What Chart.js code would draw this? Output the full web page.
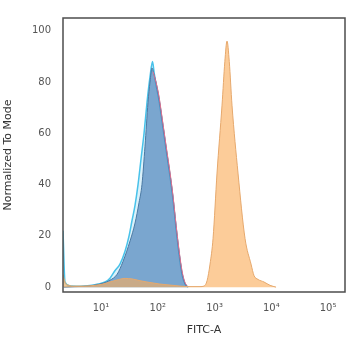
<!DOCTYPE html>
<html>
<head>
<meta charset="utf-8">
<script src="https://cdn.jsdelivr.net/npm/chart.js@4.4.1/dist/chart.umd.min.js"></script>
<style>
html,body{margin:0;padding:0;background:#fff;}
#c{display:block;}
</style>
</head>
<body>
<canvas id="c" width="350" height="339"></canvas>
<script>
// ---- data ----
const xTickValues = [10, 100, 1000, 10000, 100000];
const xTickLabels = ['10\u00B9', '10\u00B2', '10\u00B3', '10\u2074', '10\u2075'];
const yTickValues = [0, 20, 40, 60, 80, 100];

const blueX = [2.2, 3.48, 5.9, 7.84, 10.8, 14.4, 19.2, 24.4, 32.5, 39.8, 46.8, 52.7, 59.6, 67.3, 73, 79.2, 85.9, 93.1, 105, 124, 146, 165, 186, 210, 237, 267, 302, 341];
const blueY = [0, 0.2, 0.4, 0.8, 1.5, 2.7, 5, 10, 18, 25, 33, 40, 55, 72, 80, 85.5, 83, 80, 74, 63, 52, 44, 35, 24, 14, 6, 1.5, 0];

const cyanX = [2.14, 2.32, 2.84, 4.3, 6.4, 8.85, 11.8, 14.4, 17.7, 21.6, 26.5, 31.2, 35.2, 39.8, 44.9, 50.7, 57.3, 64.6, 73, 80.8, 85.9, 93.1, 105, 124, 146, 165, 186, 210, 237, 267, 302, 341];
const cyanY = [22, 2, 0.5, 0.3, 0.6, 1.2, 2, 3.5, 6.5, 9, 14, 20, 26, 32, 40, 50, 60, 72, 82, 88, 84, 79, 73, 62, 51, 43, 34, 23, 13, 5, 1.2, 0];

const redX = [82.6, 93.1, 105, 124, 146, 165, 186, 210, 237, 267, 302, 341];
const redY = [84, 80, 74.5, 63.5, 52.5, 44.5, 35.5, 24.5, 14.5, 6.5, 1.8, 0.2];

const orangeX = [2.14, 2.32, 2.62, 3.48, 5.2, 7.84, 10.8, 14.4, 19.2, 26.5, 35.2, 48.6, 73, 109, 165, 247, 370, 555, 653, 739, 834, 942, 1107, 1356, 1520, 1660, 1820, 2032, 2593, 3446, 4395, 4966, 5845, 7450, 9510, 12140];
const orangeY = [5, 2, 0.8, 0.4, 0.4, 0.7, 1.2, 2, 2.8, 3.4, 3.2, 2.5, 1.8, 1.2, 0.8, 0.4, 0.2, 0.2, 0.4, 2.5, 9, 19, 44.5, 71, 88, 96, 88, 71, 44.5, 19, 9, 4.5, 3, 2, 0.7, 0];

const pts = (xs, ys) => xs.map((x, i) => ({x: x, y: ys[i]}));

const framePlugin = {
  id: 'frame',
  afterDatasetsDraw(chart) {
    const a = chart.chartArea, ctx = chart.ctx;
    ctx.save();
    ctx.strokeStyle = '#4d4d4d';
    ctx.lineWidth = 1.5;
    ctx.strokeRect(a.left, a.top, a.right - a.left, a.bottom - a.top);
    ctx.restore();
  }
};

const common = {pointRadius: 0, cubicInterpolationMode: 'monotone', fill: 'origin'};

new Chart(document.getElementById('c'), {
  type: 'line',
  data: {
    datasets: [
      Object.assign({label: 'orange', data: pts(orangeX, orangeY), borderColor: '#e6a86c', borderWidth: 1, backgroundColor: 'rgba(250,172,90,0.62)', order: 1}, common),
      Object.assign({label: 'red', data: pts(redX, redY), borderColor: '#e0708e', borderWidth: 1, order: 2}, common, {fill: false}),
      Object.assign({label: 'blue', data: pts(blueX, blueY), borderColor: '#4a78a2', borderWidth: 1, backgroundColor: 'rgba(75,130,185,0.68)', order: 3}, common),
      Object.assign({label: 'cyan', data: pts(cyanX, cyanY), borderColor: '#48c2ea', borderWidth: 1.5, backgroundColor: 'rgba(110,205,238,0.25)', order: 4}, common)
    ]
  },
  options: {
    responsive: false,
    animation: false,
    devicePixelRatio: 1,
    layout: {padding: {top: 12, right: 5, left: 0, bottom: 0}},
    plugins: {legend: {display: false}, tooltip: {enabled: false}},
    scales: {
      x: {
        type: 'logarithmic',
        min: 2.14,
        max: 199000,
        grid: {display: false, drawTicks: false},
        border: {display: false},
        afterBuildTicks: s => { s.ticks = xTickValues.map(v => ({value: v})); },
        afterFit: s => { s.height = 47; },
        ticks: {
          padding: 10,
          color: '#555',
          font: {family: 'DejaVu Sans', size: 10},
          maxRotation: 0,
          autoSkip: false,
          callback: (v) => { const i = xTickValues.indexOf(v); return i >= 0 ? xTickLabels[i] : ''; }
        },
        title: {display: true, text: 'FITC-A', color: '#333', font: {family: 'DejaVu Sans', size: 11}, padding: {top: 0, bottom: 2}}
      },
      y: {
        type: 'linear',
        min: -1.9,
        max: 105,
        grid: {display: false, drawTicks: false},
        border: {display: false},
        afterBuildTicks: s => { s.ticks = yTickValues.map(v => ({value: v})); },
        afterFit: s => { s.width = 63; },
        ticks: {
          padding: 12,
          color: '#555',
          font: {family: 'DejaVu Sans', size: 10},
          autoSkip: false
        },
        title: {display: true, text: 'Normalized To Mode', color: '#333', font: {family: 'DejaVu Sans', size: 11}, padding: {top: 2, bottom: 0}}
      }
    }
  },
  plugins: [framePlugin]
});
</script>
</body>
</html>
